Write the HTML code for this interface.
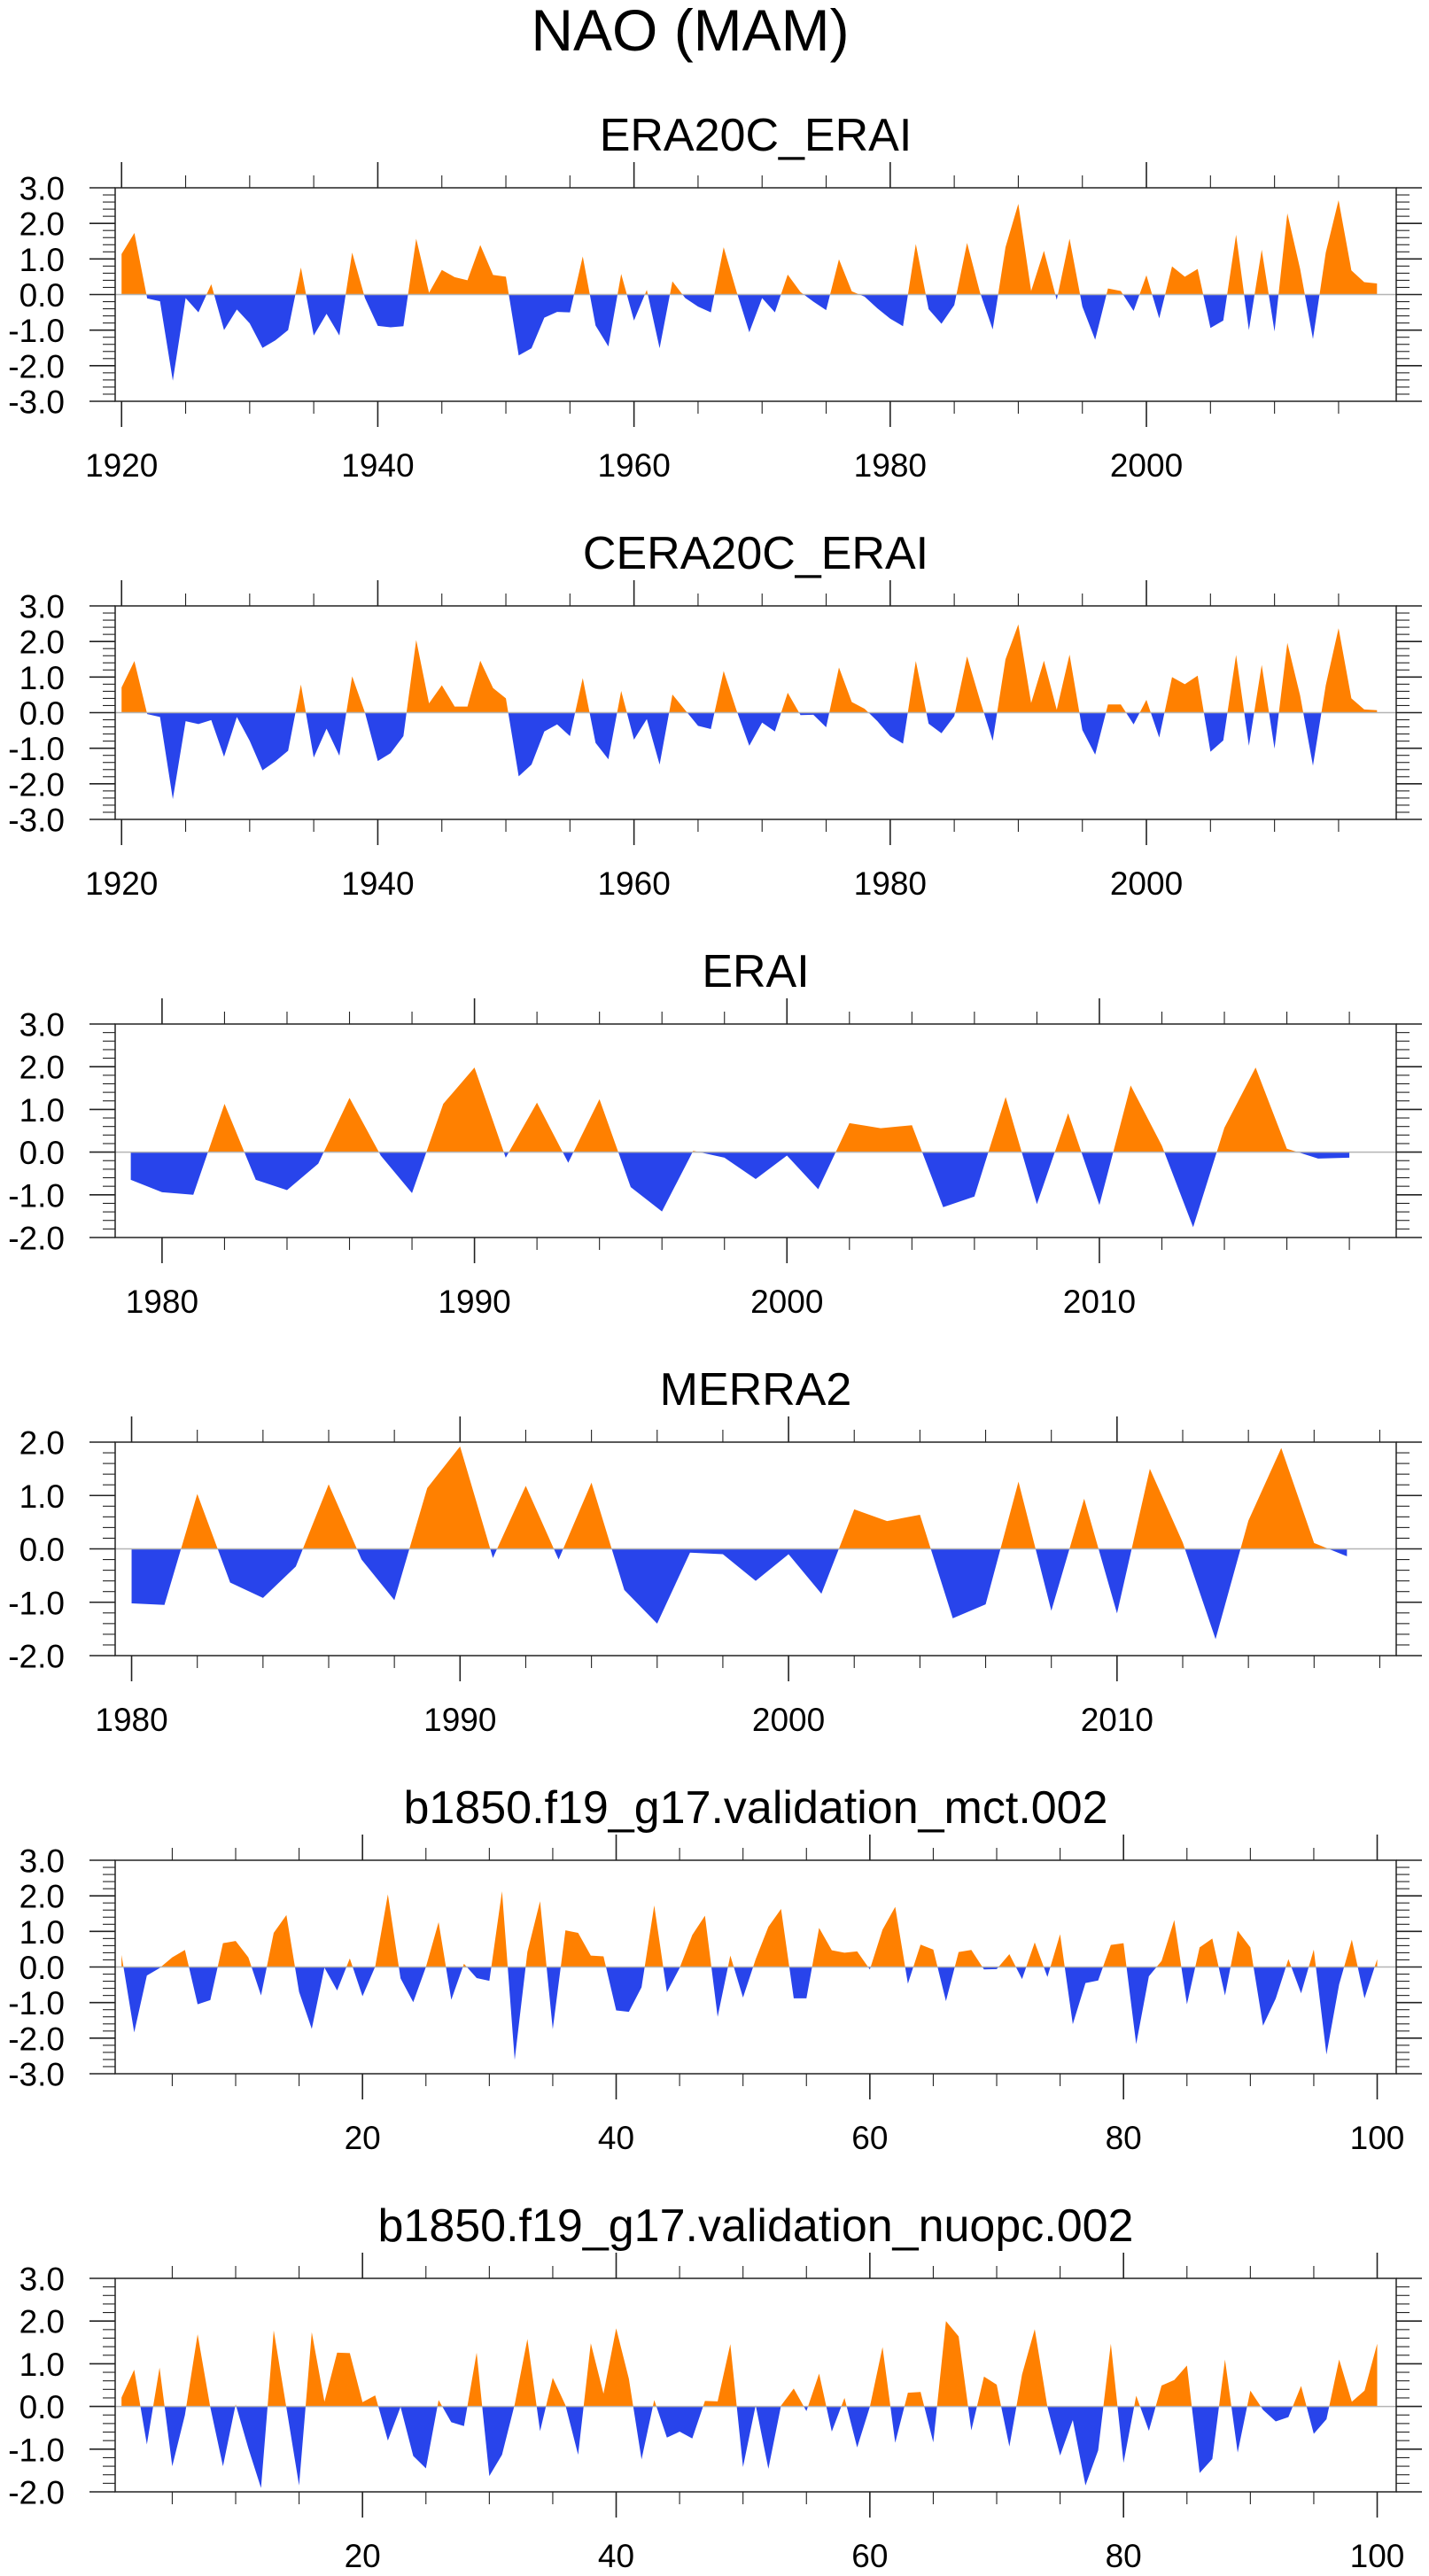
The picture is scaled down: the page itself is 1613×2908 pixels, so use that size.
<!DOCTYPE html>
<html><head><meta charset="utf-8"><title>NAO (MAM)</title>
<style>
html,body{margin:0;padding:0;background:#fff;}
svg{display:block;font-family:"Liberation Sans",sans-serif;}
</style></head>
<body>
<svg id="fig" width="1613" height="2908" viewBox="0 0 1613 2908" xmlns="http://www.w3.org/2000/svg">
<text x="779" y="57" font-size="66" text-anchor="middle" fill="#000">NAO (MAM)</text>
</svg>
<script>
// ---- data ----
const yearsA = []; for (let y = 1920; y <= 2018; y++) yearsA.push(y);
const era20cValues = [1.14,1.73,-0.11,-0.19,-2.42,-0.1,-0.5,0.29,-1.0,-0.42,-0.81,-1.5,-1.29,-1.0,0.76,-1.15,-0.54,-1.15,1.18,-0.1,
-0.88,-0.92,-0.89,1.57,0.05,0.69,0.49,0.4,1.39,0.55,0.5,-1.71,-1.51,-0.65,-0.49,-0.5,1.07,-0.87,-1.46,0.58,
-0.73,0.13,-1.51,0.37,-0.1,-0.34,-0.5,1.33,0.09,-1.06,-0.1,-0.5,0.56,0.07,-0.2,-0.44,0.99,0.09,-0.06,-0.39,
-0.68,-0.89,1.42,-0.41,-0.82,-0.3,1.45,0.07,-0.98,1.33,2.55,0.1,1.23,-0.15,1.57,-0.34,-1.27,0.17,0.1,-0.46,
0.54,-0.67,0.79,0.5,0.72,-0.94,-0.73,1.68,-1.0,1.26,-1.04,2.28,0.72,-1.25,1.18,2.65,0.68,0.35,0.31];
const cera20cValues = [0.71,1.45,-0.04,-0.12,-2.43,-0.24,-0.32,-0.21,-1.24,-0.12,-0.79,-1.62,-1.37,-1.07,0.79,-1.26,-0.45,-1.21,1.02,0.0,
-1.36,-1.14,-0.66,2.04,0.26,0.77,0.17,0.17,1.46,0.69,0.4,-1.79,-1.46,-0.53,-0.33,-0.66,0.97,-0.85,-1.31,0.61,
-0.76,-0.18,-1.46,0.51,0.07,-0.37,-0.46,1.17,0.07,-0.93,-0.28,-0.53,0.56,-0.07,-0.06,-0.41,1.27,0.3,0.11,-0.24,
-0.66,-0.87,1.45,-0.31,-0.58,-0.1,1.58,0.36,-0.79,1.5,2.48,0.27,1.46,0.08,1.63,-0.49,-1.18,0.23,0.23,-0.33,
0.36,-0.7,1.0,0.8,1.04,-1.1,-0.78,1.62,-0.93,1.34,-1.01,1.96,0.48,-1.49,0.77,2.37,0.4,0.09,0.07];
const yearsErai = []; for (let y = 1979; y <= 2018; y++) yearsErai.push(y);
const eraiValues = [-0.65,-0.94,-1.0,1.13,-0.65,-0.89,-0.27,1.27,-0.08,-0.96,1.13,1.98,-0.13,1.16,-0.25,1.24,-0.82,-1.39,0.03,-0.13,
-0.63,-0.08,-0.87,0.68,0.56,0.63,-1.29,-1.04,1.29,-1.22,0.91,-1.24,1.56,0.15,-1.76,0.57,1.98,0.08,-0.15,-0.13];
const yearsMerra = []; for (let y = 1980; y <= 2017; y++) yearsMerra.push(y);
const merraValues = [-1.02,-1.05,1.03,-0.63,-0.92,-0.33,1.21,-0.2,-0.96,1.14,1.92,-0.17,1.18,-0.2,1.24,-0.77,-1.4,-0.07,-0.1,-0.6,
-0.1,-0.84,0.74,0.52,0.64,-1.3,-1.04,1.26,-1.16,0.94,-1.21,1.5,0.12,-1.69,0.53,1.89,0.11,-0.14];
const modelYears = []; for (let i = 1; i <= 100; i++) modelYears.push(i);
const mctValues = [0.34,-1.84,-0.24,-0.03,0.27,0.48,-1.05,-0.93,0.67,0.73,0.27,-0.8,0.96,1.46,-0.7,-1.74,-0.02,-0.66,0.24,-0.82,
0.01,2.04,-0.32,-0.99,0.0,1.26,-0.92,0.09,-0.31,-0.39,2.13,-2.61,0.42,1.85,-1.75,1.03,0.96,0.32,0.3,-1.22,
-1.26,-0.57,1.73,-0.71,-0.03,0.9,1.44,-1.4,0.32,-0.86,0.22,1.13,1.63,-0.88,-0.88,1.1,0.47,0.4,0.44,-0.07,
1.05,1.69,-0.47,0.63,0.49,-0.96,0.42,0.48,-0.07,-0.06,0.36,-0.34,0.69,-0.28,0.92,-1.61,-0.45,-0.38,0.62,0.67,
-2.17,-0.26,0.17,1.32,-1.05,0.55,0.8,-0.8,1.02,0.55,-1.65,-0.89,0.22,-0.74,0.49,-2.46,-0.49,0.77,-0.88,0.22];
const nuopcValues = [0.21,0.86,-0.89,0.91,-1.4,-0.2,1.69,-0.02,-1.4,0.05,-0.98,-1.91,1.78,-0.03,-1.85,1.74,0.11,1.26,1.25,0.1,
0.26,-0.8,-0.01,-1.16,-1.45,0.15,-0.37,-0.46,1.26,-1.63,-1.13,0.05,1.58,-0.58,0.67,0.03,-1.13,1.48,0.3,1.83,
0.65,-1.24,0.15,-0.73,-0.59,-0.75,0.13,0.12,1.46,-1.42,0.03,-1.46,0.02,0.42,-0.11,0.77,-0.59,0.2,-0.96,-0.01,
1.39,-0.85,0.32,0.34,-0.84,2.0,1.64,-0.56,0.7,0.51,-0.94,0.75,1.81,-0.01,-1.15,-0.32,-1.85,-1.03,1.47,-1.32,
0.25,-0.57,0.49,0.62,0.96,-1.56,-1.23,1.1,-1.08,0.37,-0.08,-0.35,-0.25,0.48,-0.64,-0.3,1.1,0.11,0.37,1.47];
const panelTitles = ["ERA20C_ERAI","CERA20C_ERAI","ERAI","MERRA2","b1850.f19_g17.validation_mct.002","b1850.f19_g17.validation_nuopc.002"];
const xTicksCentury = [1920,1940,1960,1980,2000];
const xTicksShort = [1980,1990,2000,2010];
const xTicksModel = [20,40,60,80,100];

// ---- layout ----
const NS = "http://www.w3.org/2000/svg";
const svg = document.getElementById("fig");
const FL = 130, FR = 1576, FH = 241;
const panels = [
 {key:"era20c", title:panelTitles[0], xs:yearsA, vs:era20cValues, xmin:1919.5, xmax:2019.5, ymin:-3, ymax:3, majors:xTicksCentury, minorStep:5, minorStart:1920, minorEnd:2015, top:212},
 {key:"cera20c", title:panelTitles[1], xs:yearsA, vs:cera20cValues, xmin:1919.5, xmax:2019.5, ymin:-3, ymax:3, majors:xTicksCentury, minorStep:5, minorStart:1920, minorEnd:2015, top:684},
 {key:"erai", title:panelTitles[2], xs:yearsErai, vs:eraiValues, xmin:1978.5, xmax:2019.5, ymin:-2, ymax:3, majors:xTicksShort, minorStep:2, minorStart:1980, minorEnd:2018, top:1156},
 {key:"merra2", title:panelTitles[3], xs:yearsMerra, vs:merraValues, xmin:1979.5, xmax:2018.5, ymin:-2, ymax:2, majors:xTicksShort, minorStep:2, minorStart:1980, minorEnd:2018, top:1628},
 {key:"mct", title:panelTitles[4], xs:modelYears, vs:mctValues, xmin:0.5, xmax:101.5, ymin:-3, ymax:3, majors:xTicksModel, minorStep:5, minorStart:5, minorEnd:100, top:2100},
 {key:"nuopc", title:panelTitles[5], xs:modelYears, vs:nuopcValues, xmin:0.5, xmax:101.5, ymin:-2, ymax:3, majors:xTicksModel, minorStep:5, minorStart:5, minorEnd:100, top:2572}
];

function mk(tag, attrs, parent){
  const e = document.createElementNS(NS, tag);
  for (const k in attrs) e.setAttribute(k, attrs[k]);
  (parent||svg).appendChild(e);
  return e;
}
function line(g, x1,y1,x2,y2, w){
  return mk("line",{x1:x1,y1:y1,x2:x2,y2:y2,stroke:"#222","stroke-width":w||1.5},g);
}

panels.forEach(function(p, pi){
  const top = p.top, bot = top + FH;
  const xS = function(v){ return FL + (v - p.xmin) / (p.xmax - p.xmin) * (FR - FL); };
  const yS = function(v){ return bot - (v - p.ymin) / (p.ymax - p.ymin) * FH; };
  const g = mk("g", {});
  
  

  const t = mk("text",{x:(FL+FR)/2, y:top-42, "font-size":52, "text-anchor":"middle", fill:"#000"}, g);
  t.textContent = p.title;
  
  

  // clip paths
  const defs = mk("defs",{},g);
  const z = yS(0);
  const cpA = mk("clipPath",{id:"ca"+pi},defs); mk("rect",{x:FL,y:top,width:FR-FL,height:z-top},cpA);
  const cpB = mk("clipPath",{id:"cb"+pi},defs); mk("rect",{x:FL,y:z,width:FR-FL,height:bot-z},cpB);

  let pts = "";
  for (let i = 0; i < p.xs.length; i++) pts += xS(p.xs[i]).toFixed(2) + "," + yS(p.vs[i]).toFixed(2) + " ";
  pts += xS(p.xs[p.xs.length-1]).toFixed(2) + "," + z.toFixed(2) + " " + xS(p.xs[0]).toFixed(2) + "," + z.toFixed(2);
  const pos = mk("polygon",{points:pts, fill:"#ff8000", "clip-path":"url(#ca"+pi+")"}, g);
  
  
  const neg = mk("polygon",{points:pts, fill:"#2844eb", "clip-path":"url(#cb"+pi+")"}, g);
  
  

  const zl = mk("line",{x1:FL,y1:z,x2:FR,y2:z,stroke:"#b4b4b4","stroke-width":1.5},g);
  
  

  const fr = mk("rect",{x:FL,y:top,width:FR-FL,height:FH,fill:"none",stroke:"#222","stroke-width":1.5},g);
  
  

  // y ticks
  const steps = Math.round((p.ymax - p.ymin) / 0.2);
  for (let k = 0; k <= steps; k++){
    const v = p.ymin + k*0.2;
    const y = yS(v);
    const major = (k % 5 === 0);
    line(g, major?101:116, y, FL, y, major?1.6:1.1);
    line(g, FR, y, major?1605:1591, y, major?1.6:1.1);
    if (major){
      const lb = mk("text",{x:73, y:y+13.5, "font-size":37, "text-anchor":"end", fill:"#000"}, g);
      lb.textContent = v.toFixed(1);
      
      
    }
  }
  // x minor ticks
  for (let v = p.minorStart; v <= p.minorEnd; v += p.minorStep){
    if (p.majors.indexOf(v) >= 0) continue;
    const x = xS(v);
    line(g, x, bot, x, bot+14, 1.1);
    line(g, x, top, x, top-14, 1.1);
  }
  // x major ticks
  p.majors.forEach(function(v){
    const x = xS(v);
    line(g, x, bot, x, bot+29, 1.6);
    line(g, x, top, x, top-29, 1.6);
    const lb = mk("text",{x:x, y:bot+85, "font-size":37, "text-anchor":"middle", fill:"#000"}, g);
    lb.textContent = String(v);
    
    
  });
});
</script>
</body></html>
